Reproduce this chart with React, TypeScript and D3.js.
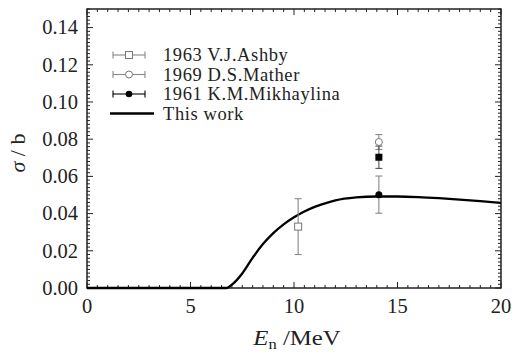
import React, { useRef, useEffect } from 'react';
import * as d3 from 'd3';

// calculated cross section ("This work")
const curveEnergy = [0, 6.75, 7, 7.5, 8, 8.5, 9, 9.5, 10, 10.5, 11, 11.5, 12, 13, 14, 15, 16, 17, 18, 19, 20];
const curveSigma = [0, 0, 0.0018, 0.0078, 0.0162, 0.0236, 0.0295, 0.0342, 0.038, 0.0411, 0.0436, 0.0455, 0.0471, 0.0487, 0.0492, 0.0492, 0.0489, 0.0483, 0.0475, 0.0467, 0.0458];

// experimental points
const ashbyE = [10.2];
const ashbySigma = [0.033];
const ashbyErr = [0.015];

const matherE = [14.1];
const matherSigma = [0.0785];
const matherErr = [0.004];

const mikhaylinaE = [14.1];
const mikhaylinaSigma = [0.0502];
const mikhaylinaErr = [0.0100];

const extraE = [14.1];
const extraSigma = [0.0703];
const extraErr = [0.006];

const xTicks = [0, 5, 10, 15, 20];
const yTicks = [0, 0.02, 0.04, 0.06, 0.08, 0.1, 0.12, 0.14];

const legendLabels = ['1963 V.J.Ashby', '1969 D.S.Mather', '1961 K.M.Mikhaylina', 'This work'];

const FONT = "'Liberation Serif', 'Times New Roman', 'DejaVu Serif', serif";

const App = () => {
  const svgRef = useRef<SVGSVGElement>(null);

  useEffect(() => {
    const width = 512;
    const height = 356;
    const m = { top: 9, right: 11, bottom: 68, left: 87 };

    const svg = d3.select(svgRef.current);
    svg.selectAll('*').remove();
    svg.attr('width', width).attr('height', height).style('font-family', FONT);

    const x = d3.scaleLinear().domain([0, 20]).range([m.left, width - m.right]);
    const y = d3.scaleLinear().domain([0, 0.15]).range([height - m.bottom, m.top]);
    const [x0, x1] = x.range();
    const [y0, y1] = y.range();

    const axes = svg.append('g').attr('stroke', '#222').attr('stroke-width', 1);

    // minor + major ticks, inward on all four sides
    const xMinor = d3.range(0, 20.001, 0.5);
    xMinor.forEach(v => {
      const major = Math.abs(v % 5) < 1e-6;
      const len = major ? 6 : 3;
      axes.append('line').attr('x1', x(v)).attr('x2', x(v)).attr('y1', y0).attr('y2', y0 - len);
      axes.append('line').attr('x1', x(v)).attr('x2', x(v)).attr('y1', y1).attr('y2', y1 + len);
    });
    const yMinor = d3.range(0, 0.1501, 0.002);
    yMinor.forEach((v, i) => {
      const major = i % 10 === 0;
      const len = major ? 6 : 3;
      axes.append('line').attr('x1', x0).attr('x2', x0 + len).attr('y1', y(v)).attr('y2', y(v));
      axes.append('line').attr('x1', x1).attr('x2', x1 - len).attr('y1', y(v)).attr('y2', y(v));
    });

    svg.append('rect')
      .attr('x', x0).attr('y', y1)
      .attr('width', x1 - x0).attr('height', y0 - y1)
      .attr('fill', 'none').attr('stroke', '#222').attr('stroke-width', 1.5);

    // tick labels
    svg.append('g').selectAll('text').data(xTicks).join('text')
      .attr('x', d => x(d)).attr('y', y0 + 25)
      .attr('text-anchor', 'middle')
      .style('font-family', FONT).attr('font-size', 20.5).attr('fill', '#222')
      .text(d => d3.format('d')(d));

    svg.append('g').selectAll('text').data(yTicks).join('text')
      .attr('x', x0 - 9).attr('y', d => y(d) + 6.8)
      .attr('text-anchor', 'end')
      .style('font-family', FONT).attr('font-size', 20.5).attr('fill', '#222')
      .text(d => d3.format('.2f')(d));

    // axis titles
    const yl = svg.append('text')
      .attr('transform', 'translate(25,153) rotate(-90)')
      .attr('text-anchor', 'middle')
      .style('font-family', FONT).attr('font-size', 22).attr('fill', '#222');
    yl.append('tspan').attr('font-style', 'italic').text('σ');
    yl.append('tspan').text(' / b');

    const xl = svg.append('text')
      .attr('transform', 'translate(297,345) scale(1.18,1)')
      .attr('text-anchor', 'middle')
      .style('font-family', FONT).attr('font-size', 21).attr('fill', '#222');
    xl.append('tspan').attr('font-style', 'italic').text('E');
    xl.append('tspan').attr('font-size', 14).attr('dy', 4).text('n');
    xl.append('tspan').attr('dy', -4).text(' /MeV');

    // curve
    const line = d3.line<number>()
      .x((_, i) => x(curveEnergy[i]))
      .y(d => y(d))
      .curve(d3.curveMonotoneX);
    svg.append('path')
      .datum(curveSigma)
      .attr('d', line)
      .attr('fill', 'none')
      .attr('stroke', '#000')
      .attr('stroke-width', 2.3);

    // error bars
    const errorBars = (es: number[], vs: number[], errs: number[], color: string) => {
      es.forEach((e, i) => {
        const g = svg.append('g').attr('stroke', color).attr('stroke-width', 1.1);
        const cx = x(e);
        const top = y(vs[i] + errs[i]);
        const bot = y(vs[i] - errs[i]);
        g.append('line').attr('x1', cx).attr('x2', cx).attr('y1', top).attr('y2', bot);
        g.append('line').attr('x1', cx - 3.5).attr('x2', cx + 3.5).attr('y1', top).attr('y2', top);
        g.append('line').attr('x1', cx - 3.5).attr('x2', cx + 3.5).attr('y1', bot).attr('y2', bot);
      });
    };
    errorBars(ashbyE, ashbySigma, ashbyErr, '#888');
    errorBars(matherE, matherSigma, matherErr, '#888');
    errorBars(extraE, extraSigma, extraErr, '#555');
    errorBars(mikhaylinaE, mikhaylinaSigma, mikhaylinaErr, '#888');

    ashbyE.forEach((e, i) => {
      svg.append('rect').attr('x', x(e) - 3.5).attr('y', y(ashbySigma[i]) - 3.5)
        .attr('width', 7).attr('height', 7)
        .attr('fill', '#fff').attr('stroke', '#777').attr('stroke-width', 1);
    });
    matherE.forEach((e, i) => {
      svg.append('circle').attr('cx', x(e)).attr('cy', y(matherSigma[i])).attr('r', 3.5)
        .attr('fill', '#fff').attr('stroke', '#777').attr('stroke-width', 1);
    });
    extraE.forEach((e, i) => {
      svg.append('rect').attr('x', x(e) - 3.5).attr('y', y(extraSigma[i]) - 3.5)
        .attr('width', 7).attr('height', 7).attr('fill', '#000');
    });
    mikhaylinaE.forEach((e, i) => {
      svg.append('circle').attr('cx', x(e)).attr('cy', y(mikhaylinaSigma[i])).attr('r', 3.5)
        .attr('fill', '#000');
    });

    // legend
    const lg = svg.append('g');
    const rowY = [55, 74.5, 94, 113.5];
    const lx0 = 113, lx1 = 145, lmid = 129;
    legendLabels.forEach((label, i) => {
      const yy = rowY[i];
      if (i < 3) {
        const c = i === 2 ? '#000' : '#888';
        lg.append('line').attr('x1', lx0).attr('x2', lx1).attr('y1', yy).attr('y2', yy)
          .attr('stroke', c).attr('stroke-width', 1.1);
        lg.append('line').attr('x1', lx0).attr('x2', lx0).attr('y1', yy - 3.5).attr('y2', yy + 3.5)
          .attr('stroke', c).attr('stroke-width', 1.1);
        lg.append('line').attr('x1', lx1).attr('x2', lx1).attr('y1', yy - 3.5).attr('y2', yy + 3.5)
          .attr('stroke', c).attr('stroke-width', 1.1);
        if (i === 0) {
          lg.append('rect').attr('x', lmid - 3.5).attr('y', yy - 3.5).attr('width', 7).attr('height', 7)
            .attr('fill', '#fff').attr('stroke', '#777');
        } else if (i === 1) {
          lg.append('circle').attr('cx', lmid).attr('cy', yy).attr('r', 3.5)
            .attr('fill', '#fff').attr('stroke', '#777');
        } else {
          lg.append('circle').attr('cx', lmid).attr('cy', yy).attr('r', 3.3).attr('fill', '#000');
        }
      } else {
        lg.append('line').attr('x1', 110).attr('x2', 154).attr('y1', yy).attr('y2', yy)
          .attr('stroke', '#000').attr('stroke-width', 2.3);
      }
      lg.append('text')
        .attr('x', 163).attr('y', yy + 6)
        .style('font-family', FONT).attr('font-size', 18.5).attr('letter-spacing', 0.6).attr('fill', '#222')
        .text(label);
    });
  }, []);

  return (
    <svg ref={svgRef} style={{ position: 'absolute', left: 0, top: 0, background: '#fff' }}></svg>
  );
};

export default App;
